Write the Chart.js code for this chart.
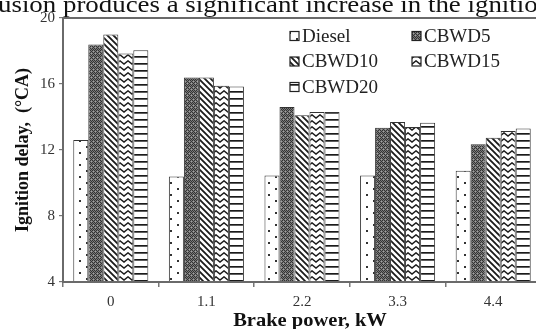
<!DOCTYPE html>
<html>
<head>
<meta charset="utf-8">
<script src="https://cdn.jsdelivr.net/npm/chart.js@4/dist/chart.umd.min.js"></script>
<style>
  html, body { margin: 0; padding: 0; background: #fff; overflow: hidden; width: 536px; height: 329px; }
  #wrap { position: relative; width: 548px; height: 329px; }
  #cap { position: absolute; left: -2px; top: -8px; font: 24px "Liberation Serif", "Times New Roman", serif; line-height: 24px; white-space: nowrap; color: #111; transform: scaleX(1.12); transform-origin: 0 0; }
  canvas { position: absolute; left: 0; top: 0; }
</style>
</head>
<body>
<div id="wrap">
  <canvas id="c" width="548" height="329"></canvas>
  <div id="cap">usion produces a significant increase in the ignitio</div>
</div>
<script>
const categories = ['0', '1.1', '2.2', '3.3', '4.4'];
const seriesNames = ['Diesel', 'CBWD5', 'CBWD10', 'CBWD15', 'CBWD20'];
const diesel = [12.6, 10.4, 10.45, 10.45, 10.75];
const cbwd5  = [18.4, 16.4, 14.6, 13.35, 12.35];
const cbwd10 = [19.0, 16.4, 14.1, 13.7, 12.75];
const cbwd15 = [17.85, 15.9, 14.3, 13.4, 13.15];
const cbwd20 = [18.05, 15.85, 14.3, 13.65, 13.3];
const yTicks = [4, 8, 12, 16, 20];
const xTitle = 'Brake power, kW';
const yTitle = 'Ignition delay,  (°CA)';

function makePattern(kind) {
  const c = document.createElement('canvas');
  const g = c.getContext('2d');
  if (kind === 'dots') {
    c.width = 14; c.height = 12;
    g.fillStyle = '#fff'; g.fillRect(0, 0, 14, 12);
    g.fillStyle = '#333';
    g.fillRect(2, 2, 2, 2); g.fillRect(9, 8, 2, 2);
  } else if (kind === 'dense') {
    c.width = 4; c.height = 6;
    g.fillStyle = '#7a7a7a'; g.fillRect(0, 0, 4, 6);
    g.fillStyle = '#333';
    for (let y = 0; y < 6; y++) for (let x = 0; x < 4; x++) if ((x + y) % 2 === 0) g.fillRect(x, y, 1, 1);
    g.fillStyle = '#a0a0a0'; g.fillRect(1, 3, 1, 1); g.fillRect(3, 5, 1, 1);
  } else if (kind === 'diag') {
    c.width = 6; c.height = 6;
    g.fillStyle = '#fff'; g.fillRect(0, 0, 6, 6);
    g.strokeStyle = '#1a1a1a'; g.lineWidth = 1.8;
    g.beginPath();
    g.moveTo(-1, -1); g.lineTo(7, 7);
    g.moveTo(5, -1); g.lineTo(7, 1);
    g.moveTo(-1, 5); g.lineTo(1, 7);
    g.stroke();
  } else if (kind === 'zig') {
    c.width = 8; c.height = 6;
    g.fillStyle = '#fff'; g.fillRect(0, 0, 8, 6);
    g.strokeStyle = '#1a1a1a'; g.lineWidth = 1.5;
    g.beginPath();
    g.moveTo(-0.5, 0.5); g.lineTo(4, 4); g.lineTo(8.5, 0.5);
    g.stroke();
  } else if (kind === 'hlines') {
    c.width = 4; c.height = 7;
    g.fillStyle = '#fff'; g.fillRect(0, 0, 4, 7);
    g.fillStyle = '#1a1a1a'; g.fillRect(0, 0, 4, 1.7);
  }
  return document.getElementById('c').getContext('2d').createPattern(c, 'repeat');
}

const patterns = [makePattern('dots'), makePattern('dense'), makePattern('diag'), makePattern('zig'), makePattern('hlines')];
const values = [diesel, cbwd5, cbwd10, cbwd15, cbwd20];

const datasets = seriesNames.map((name, i) => ({
  label: name,
  data: values[i],
  backgroundColor: patterns[i],
  borderColor: '#333',
  borderWidth: 1,
  borderSkipped: 'bottom',
  categoryPercentage: 0.785,
  barPercentage: 1.0
}));

const serif = '"Liberation Serif", "Times New Roman", serif';

const framePlugin = {
  id: 'frame',
  afterDraw(chart) {
    const { ctx, chartArea: a } = chart;
    ctx.save();
    ctx.strokeStyle = '#6a6a6a';
    ctx.lineWidth = 2;
    ctx.strokeRect(a.left, a.top, a.right - a.left, a.bottom - a.top);
    // x axis title
    ctx.font = 'bold 19px ' + serif;
    ctx.fillStyle = '#111';
    ctx.textAlign = 'center';
    ctx.textBaseline = 'middle';
    ctx.save();
    ctx.translate(310, 321);
    ctx.scale(1.08, 1);
    ctx.fillText(xTitle, 0, 0);
    ctx.restore();
    ctx.restore();
  }
};

const legendPlugin = {
  id: 'innerLegend',
  afterDraw(chart) {
    const { ctx } = chart;
    const cols = [290, 412];
    const rows = [36, 61.5, 87];
    ctx.save();
    ctx.font = '19px ' + serif;
    ctx.textBaseline = 'middle';
    chart.data.datasets.forEach((ds, i) => {
      const x = cols[i % 2];
      const y = rows[Math.floor(i / 2)];
      ctx.fillStyle = ds.backgroundColor;
      ctx.fillRect(x, y - 4.5, 9, 9);
      ctx.strokeStyle = '#222';
      ctx.lineWidth = 1.2;
      ctx.strokeRect(x, y - 4.5, 9, 9);
      ctx.fillStyle = '#222';
      ctx.fillText(ds.label, x + 12, y + 1);
    });
    ctx.restore();
  }
};

new Chart(document.getElementById('c'), {
  type: 'bar',
  data: { labels: categories, datasets },
  options: {
    responsive: false,
    animation: false,
    layout: { padding: { left: 0, top: 18, right: 7, bottom: 0 } },
    plugins: { legend: { display: false }, tooltip: { enabled: false } },
    scales: {
      x: {
        afterFit(s) { s.height = 47; },
        grid: { display: true, drawOnChartArea: false, drawTicks: true, tickLength: 5, color: '#777', lineWidth: 1.5, offset: true },
        border: { display: false },
        ticks: { color: '#333', font: { family: serif, size: 15 }, padding: 6 },
        title: { display: false }
      },
      y: {
        min: 4, max: 20,
        afterFit(s) { s.width = 63; },
        afterBuildTicks(s) { s.ticks = yTicks.map(v => ({ value: v })); },
        grid: { display: true, drawOnChartArea: false, drawTicks: true, tickLength: 4, color: '#777', lineWidth: 1.2 },
        border: { display: false },
        ticks: { color: '#333', font: { family: serif, size: 15 }, padding: 4 },
        title: { display: true, text: yTitle, color: '#111', font: { family: serif, size: 18, weight: 'bold' }, padding: 13 }
      }
    }
  },
  plugins: [framePlugin, legendPlugin]
});
</script>
</body>
</html>
